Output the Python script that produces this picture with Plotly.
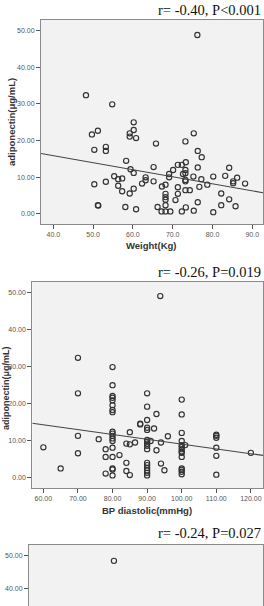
import plotly.graph_objects as go
import numpy as np

# ---- Panel 1: Weight vs adiponectin ----
weight = [76.2, 48.2, 54.8, 49.7, 51.2, 50.3, 53.2, 53.2, 60.2, 60.2, 59.2, 59.2, 60.8, 65.8, 73.2,
          75.3, 76.3, 77.3, 58.3, 59.4, 60.2, 55.3, 56.3, 57.3, 53.2, 50.3, 65.2, 63.2, 63.2, 62.3,
          65.2, 67.3, 68.2, 69.1, 69.1, 70.1, 71.3, 72.3, 73.3, 73.2, 73.2, 73.2, 73.2, 72.6, 75.2,
          76.3, 77.2, 78.7, 80.2, 83.2, 84.2, 85.2, 85.2, 86.2, 88.2, 71.3, 74.3, 73.2, 76.7, 71.3,
          68.2, 68.2, 68.2, 68.2, 70.7, 59.2, 57.3, 56.3, 60.2, 51.2, 51.3, 58.1, 60.8, 66.2, 76.3,
          82.2, 84.2, 85.8, 82.2, 80.2, 67.2, 68.2, 69.4, 72.3, 73.3, 75.3]
adipo_w = [48.8, 32.4, 29.9, 21.7, 22.7, 17.5, 18.3, 17.2, 25.0, 22.9, 22.0, 21.1, 20.7, 19.2, 19.8,
           22.0, 17.2, 15.5, 14.5, 12.2, 11.2, 10.3, 9.5, 9.7, 8.8, 8.1, 12.8, 10.0, 9.2, 8.3,
           8.9, 7.5, 8.0, 10.9, 10.0, 12.0, 13.4, 13.4, 14.1, 12.0, 11.1, 9.3, 8.9, 10.9, 10.2,
           12.7, 9.5, 8.0, 10.2, 10.4, 12.6, 8.9, 8.4, 9.9, 8.3, 7.3, 6.5, 6.5, 7.4, 5.5,
           5.5, 4.6, 3.9, 2.4, 3.8, 5.6, 6.2, 7.7, 6.9, 2.4, 2.3, 1.9, 1.3, 1.9, 3.2,
           5.6, 4.0, 2.1, 2.4, 0.5, 0.7, 0.7, 0.7, 0.7, 1.8, 0.9]
weight_fit = [23.58, -0.1918]   # intercept, slope
weight_ticks = [40, 50, 60, 70, 80, 90]

# ---- Panel 2: BP diastolic vs adiponectin ----
bp = [93.8, 70, 80, 80, 70, 80, 80, 80, 80, 80, 80, 90, 90, 90, 88, 88, 90, 90, 85, 80,
      80, 80, 70, 76, 80, 80, 90, 90, 90, 90, 90, 84, 85, 86.5, 60, 78, 80, 70, 82, 78,
      80, 84, 90, 90, 90, 90, 90, 90, 65, 80, 80, 84, 85, 78, 80, 100, 100, 92.7, 92, 96,
      100, 100, 100, 100, 100, 100, 100, 100, 101, 91, 94, 92.7, 110, 110, 110, 110, 110, 110, 120, 94,
      95, 100, 100, 100, 100]
adipo_bp = [49.0, 32.3, 29.8, 24.9, 22.7, 22.0, 21.5, 20.8, 19.5, 18.2, 17.6, 22.7, 19.1, 15.5, 14.3, 14.5, 13.4, 12.8, 12.2, 12.3,
            11.8, 11.2, 11.2, 10.3, 10.5, 9.8, 10.1, 9.6, 9.1, 8.5, 7.6, 9.1, 8.9, 9.4, 8.1, 7.6, 8.0, 6.5, 6.0, 5.5,
            5.5, 3.9, 3.9, 3.3, 2.5, 1.8, 1.2, 0.5, 2.4, 2.4, 2.1, 1.7, 0.6, 1.0, 0.5, 21.0, 17.0, 17.1, 13.2, 11.1,
            12.0, 9.8, 8.7, 8.2, 7.6, 7.0, 6.6, 5.5, 8.7, 9.8, 9.4, 7.3, 11.5, 11.2, 10.7, 8.0, 5.8, 0.7, 6.6, 3.7,
            1.9, 2.4, 2.0, 1.5, 0.8]
bp_fit = [22.01, -0.1304]
bp_ticks = [60, 70, 80, 90, 100, 110, 120]

# ---- Panel 3 (cut off): only the top point visible ----
third_x = [36.3]
third_y = [48.5]

y_ticks = [0, 10, 20, 30, 40, 50]

titles = ["r= -0.40, P<0.001", "r= -0.26, P=0.019", "r= -0.24, P=0.027"]
x_titles = ["Weight(Kg)", "BP diastolic(mmHg)"]
y_title = "adiponectin(μg/mL)"

W, H = 264, 606
def px(v): return v / W
def py(v): return 1 - v / H

marker = dict(symbol="circle-open", size=5.2, color="#333333", line=dict(width=1.15, color="#333333"))
line_style = dict(color="#444444", width=1.1)

fig = go.Figure()

x1_range = [36.9, 92.7]
fig.add_trace(go.Scatter(x=weight, y=adipo_w, mode="markers", marker=marker, xaxis="x", yaxis="y", hoverinfo="skip"))
xs1 = np.array(x1_range)
fig.add_trace(go.Scatter(x=xs1, y=weight_fit[0] + weight_fit[1] * xs1, mode="lines", line=line_style,
                         xaxis="x", yaxis="y", hoverinfo="skip"))

x2_range = [56.8, 123.5]
fig.add_trace(go.Scatter(x=bp, y=adipo_bp, mode="markers", marker=marker, xaxis="x2", yaxis="y2", hoverinfo="skip"))
xs2 = np.array(x2_range)
fig.add_trace(go.Scatter(x=xs2, y=bp_fit[0] + bp_fit[1] * xs2, mode="lines", line=line_style,
                         xaxis="x2", yaxis="y2", hoverinfo="skip"))

fig.add_trace(go.Scatter(x=third_x, y=third_y, mode="markers", marker=marker, xaxis="x3", yaxis="y3", hoverinfo="skip"))

tickfont = dict(family="Liberation Sans, Arial, sans-serif", size=7, color="#555555")
axis_common = dict(showgrid=False, zeroline=False, showline=True, linecolor="#8a8a8a", linewidth=1,
                   ticks="outside", ticklen=4, tickcolor="#555555", tickwidth=1, tickfont=tickfont)

fig.update_layout(
    width=W, height=H, autosize=False,
    margin=dict(l=0, r=0, t=0, b=0),
    paper_bgcolor="white", plot_bgcolor="#f2f2f2",
    showlegend=False,
    xaxis=dict(domain=[px(41), px(263)], range=x1_range, tickvals=weight_ticks, tickformat=".1f",
               mirror=True, anchor="y", **axis_common),
    yaxis=dict(domain=[py(224), py(20)], range=[-2.73, 52.9], tickvals=y_ticks, tickformat=".2f",
               mirror=True, anchor="x", **axis_common),
    xaxis2=dict(domain=[px(32.3), px(263)], range=x2_range, tickvals=bp_ticks, tickformat=".2f",
                mirror=True, anchor="y2", **axis_common),
    yaxis2=dict(domain=[py(488), py(282)], range=[-2.9, 52.8], tickvals=y_ticks, tickformat=".2f",
                mirror=True, anchor="x2", **axis_common),
    xaxis3=dict(domain=[px(29), px(263)], range=[0, 100], side="top", showticklabels=False,
                anchor="y3", showgrid=False, zeroline=False, showline=True, linecolor="#8a8a8a",
                ticks=""),
    yaxis3=dict(domain=[0, py(545)], range=[34.85, 53.3], tickvals=y_ticks, tickformat=".2f",
                mirror=True, anchor="x3", **axis_common),
)

title_font = dict(family="Liberation Serif, Times New Roman, serif", size=14.5, color="#111111")
for t, yy in zip(titles, [10, 272, 533]):
    fig.add_annotation(text=t, xref="paper", yref="paper", x=px(263), y=py(yy), xanchor="right",
                       yanchor="middle", showarrow=False, font=title_font)

lab_font = dict(family="Liberation Sans, Arial, sans-serif", size=9.5, color="#333333", weight="bold")
for t, xx, yy in zip(x_titles, [151, 146.5], [245, 510]):
    fig.add_annotation(text=t, xref="paper", yref="paper", x=px(xx), y=py(yy), xanchor="center",
                       yanchor="middle", showarrow=False, font=lab_font)
fig.add_annotation(text=y_title, xref="paper", yref="paper", x=px(11), y=py(122), xanchor="center",
                   yanchor="middle", textangle=-90, showarrow=False, font=lab_font)
lab_font2 = dict(lab_font, size=9)
fig.add_annotation(text=y_title, xref="paper", yref="paper", x=px(6), y=py(388), xanchor="center",
                   yanchor="middle", textangle=-90, showarrow=False, font=lab_font2)

fig.write_html("out.html")
